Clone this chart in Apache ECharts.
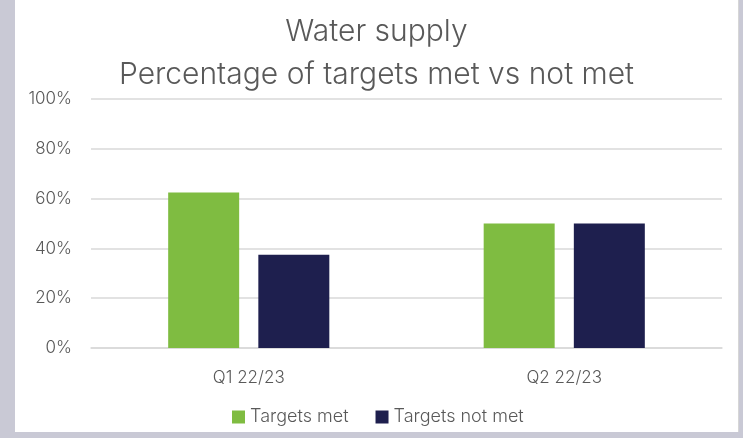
<!DOCTYPE html>
<html><head><meta charset="utf-8">
<script src="https://cdn.jsdelivr.net/npm/echarts@6/dist/echarts.min.js"></script>
<style>
html,body{margin:0;padding:0;width:743px;height:438px;background:#c9c9d5;overflow:hidden;}
#c{position:absolute;left:15px;top:0;width:723px;height:432px;background:#fff;border-right:1px solid #d6d6d6;}
</style></head><body>
<div id="c"></div>
<script>
const categories = ["Q1 22/23", "Q2 22/23"];
const targetsMet = [62.5, 50];
const targetsNotMet = [37.5, 50];
const seriesNames = ["Targets met", "Targets not met"];
const titleLines = ["Water supply", "Percentage of targets met vs not met"];

const chart = echarts.init(document.getElementById('c'));
const font = "Inter, 'Noto Sans', sans-serif";
chart.setOption({
  animation: false,
  title: {
    text: titleLines.join("\n"),
    left: 'center', top: 5,
    textStyle: {fontFamily: font, fontSize: 30, fontWeight: 300, color: '#595959', lineHeight: 43}
  },
  legend: {
    top: 403, left: 212, itemWidth: 13, itemHeight: 13, itemGap: 27,
    icon: 'rect',
    textStyle: {fontFamily: font, fontSize: 18, fontWeight: 300, color: '#595959'},
    data: seriesNames
  },
  grid: {left: 76, right: 16, top: 99, bottom: 84},
  xAxis: {
    type: 'category', data: categories,
    axisLine: {lineStyle: {color: '#d9d9d9', width: 1.5}},
    axisTick: {show: false},
    axisLabel: {fontFamily: font, fontSize: 17, fontWeight: 300, color: '#595959', margin: 21}
  },
  yAxis: {
    type: 'value', min: 0, max: 100, interval: 20,
    axisLabel: {formatter: '{value}%', fontFamily: font, fontSize: 17, fontWeight: 300, color: '#595959', margin: 19},
    splitLine: {lineStyle: {color: '#d9d9d9', width: 1.5}}
  },
  series: [
    {name: seriesNames[0], type: 'bar', data: targetsMet, barWidth: '22.5%', barGap: '27%', itemStyle: {color: '#7fbc41'}},
    {name: seriesNames[1], type: 'bar', data: targetsNotMet, barWidth: '22.5%', itemStyle: {color: '#1e1f4e'}}
  ]
});
</script></body></html>
